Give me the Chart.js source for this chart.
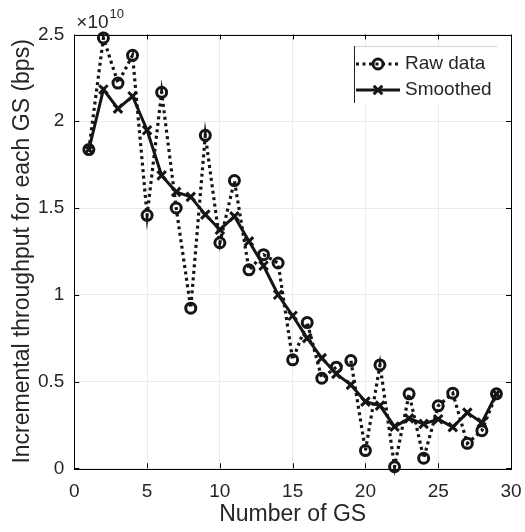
<!DOCTYPE html>
<html>
<head>
<meta charset="utf-8">
<script src="https://cdn.jsdelivr.net/npm/chart.js@4/dist/chart.umd.min.js"></script>
<style>
  html, body { margin: 0; padding: 0; background: #fff; }
  #wrap { width: 525px; height: 532px; position: relative; }
</style>
</head>
<body>
<div id="wrap"><canvas id="c" width="525" height="532"></canvas></div>
<script>
// Number of ground stations (x values)
const gsCounts = [1,2,3,4,5,6,7,8,9,10,11,12,13,14,15,16,17,18,19,20,21,22,23,24,25,26,27,28,29];
// Raw incremental throughput (units of 1e10 bps)
const rawData = [1.837,2.48,2.22,2.38,1.458,2.167,1.50,0.923,1.919,1.30,1.658,1.144,1.231,1.183,0.625,
                 0.840,0.519,0.583,0.621,0.102,0.596,0.009,0.429,0.058,0.36,0.433,0.144,0.217,0.429];
// Smoothed throughput (units of 1e10 bps)
const smoothedData = [1.837,2.183,2.073,2.144,1.948,1.688,1.593,1.564,1.462,1.375,1.452,1.308,1.167,1.0,0.879,
                      0.75,0.635,0.544,0.481,0.384,0.361,0.24,0.288,0.256,0.283,0.237,0.321,0.263,0.429];
const xTicks = [0,5,10,15,20,25,30];
const yTicks = [0,0.5,1,1.5,2,2.5];
const exponentLabel = '10';
const seriesNames = ['Raw data', 'Smoothed'];
const xTitle = 'Number of GS';
const yTitle = 'Incremental throughput for each GS (bps)';

const FONT = "'Liberation Sans', Arial, Helvetica, sans-serif";
const INK = '#151515';
const TXT = '#262626';

function toPoints(xs, ys) { return xs.map((x, i) => ({ x: x, y: ys[i] })); }

function drawCircleMarker(ctx, x, y) {
  ctx.save();
  ctx.beginPath();
  ctx.arc(x, y, 5, 0, Math.PI * 2);
  ctx.lineWidth = 3;
  ctx.strokeStyle = INK;
  ctx.stroke();
  ctx.restore();
}
function drawCrossMarker(ctx, x, y) {
  ctx.save();
  const r = 4.3;
  ctx.beginPath();
  ctx.moveTo(x - r, y - r); ctx.lineTo(x + r, y + r);
  ctx.moveTo(x - r, y + r); ctx.lineTo(x + r, y - r);
  ctx.lineWidth = 3;
  ctx.strokeStyle = INK;
  ctx.stroke();
  ctx.restore();
}

const decorPlugin = {
  id: 'decor',
  beforeDatasetsDraw(chart) {
    const { ctx, chartArea: a } = chart;
    ctx.save();
    ctx.strokeStyle = '#000';
    ctx.lineWidth = 1;
    ctx.strokeRect(Math.round(a.left) + 0.5, Math.round(a.top) + 0.5,
                   Math.round(a.right - a.left), Math.round(a.bottom - a.top));
    const xs = chart.scales.x, ys = chart.scales.y;
    const L = 5;
    ctx.beginPath();
    xTicks.forEach(v => {
      const px = Math.round(xs.getPixelForValue(v)) + 0.5;
      ctx.moveTo(px, a.bottom); ctx.lineTo(px, a.bottom - L);
      ctx.moveTo(px, a.top); ctx.lineTo(px, a.top + L);
    });
    yTicks.forEach(v => {
      const py = Math.round(ys.getPixelForValue(v)) + 0.5;
      ctx.moveTo(a.left, py); ctx.lineTo(a.left + L, py);
      ctx.moveTo(a.right, py); ctx.lineTo(a.right - L, py);
    });
    ctx.stroke();
    ctx.restore();
  },
  afterDraw(chart) {
    const { ctx, chartArea: a } = chart;
    ctx.save();
    ctx.fillStyle = TXT;
    ctx.textBaseline = 'alphabetic';
    ctx.textAlign = 'left';
    ctx.font = '19px ' + FONT;
    ctx.fillText('\u00d710', a.left + 2, 28);
    const w = ctx.measureText('\u00d710').width;
    ctx.font = '13px ' + FONT;
    ctx.fillText(exponentLabel, a.left + 2 + w + 1, 18);

    const bx = 354, by = 46, bw = 143, bh = 57;
    ctx.fillStyle = '#fff';
    ctx.fillRect(bx, by, bw, bh);
    ctx.strokeStyle = '#d4d4d4';
    ctx.lineWidth = 1;
    ctx.beginPath();
    ctx.moveTo(bx, by + 0.5); ctx.lineTo(bx + bw, by + 0.5);
    ctx.stroke();
    ctx.strokeStyle = '#222';
    ctx.beginPath();
    ctx.moveTo(bx + 0.5, by); ctx.lineTo(bx + 0.5, by + bh);
    ctx.stroke();

    const lx0 = 356, lx1 = 400, mx = 378;
    const r1 = 64, r2 = 90;
    ctx.strokeStyle = INK;
    ctx.lineWidth = 3.2;
    ctx.setLineDash([3, 3.5]);
    ctx.beginPath(); ctx.moveTo(lx0, r1); ctx.lineTo(lx1, r1); ctx.stroke();
    ctx.setLineDash([]);
    ctx.lineWidth = 3;
    ctx.beginPath(); ctx.moveTo(lx0, r2); ctx.lineTo(lx1, r2); ctx.stroke();
    drawCircleMarker(ctx, mx, r1);
    drawCrossMarker(ctx, mx, r2);

    ctx.fillStyle = TXT;
    ctx.font = '19px ' + FONT;
    ctx.textBaseline = 'middle';
    ctx.fillText(seriesNames[0], 405, r1);
    ctx.fillText(seriesNames[1], 405, r2);
    ctx.restore();
  }
};

new Chart(document.getElementById('c'), {
  type: 'line',
  data: {
    datasets: [
      {
        label: seriesNames[0],
        data: toPoints(gsCounts, rawData),
        borderColor: INK,
        borderWidth: 3.2,
        borderDash: [3, 3.5],
        pointStyle: 'circle',
        pointRadius: 5,
        pointBorderWidth: 3,
        pointBorderColor: INK,
        pointBackgroundColor: 'rgba(0,0,0,0)',
        tension: 0,
        clip: false,
        order: 1
      },
      {
        label: seriesNames[1],
        data: toPoints(gsCounts, smoothedData),
        borderColor: INK,
        borderWidth: 3,
        pointStyle: 'crossRot',
        pointRadius: 6,
        pointBorderWidth: 3,
        pointBorderColor: INK,
        pointBackgroundColor: INK,
        tension: 0,
        clip: false,
        order: 0
      }
    ]
  },
  options: {
    responsive: false,
    animation: false,
    events: [],
    layout: { padding: { top: 34.5, right: 14, left: 0, bottom: 0 } },
    plugins: { legend: { display: false }, tooltip: { enabled: false }, title: { display: false } },
    scales: {
      x: {
        type: 'linear',
        min: 0, max: 30,
        afterBuildTicks(s) { s.ticks = xTicks.map(v => ({ value: v })); },
        afterFit(s) { s.height = 63.7; s.paddingLeft = 0; s.paddingRight = 0; },
        ticks: { font: { size: 19, family: FONT }, color: TXT, padding: 12, maxRotation: 0 },
        grid: { color: '#ebebeb', lineWidth: 1, drawTicks: false },
        border: { display: false },
        title: { display: true, text: xTitle, font: { size: 23, family: FONT }, color: TXT,
                 padding: { top: 0, bottom: 4 } }
      },
      y: {
        type: 'linear',
        min: 0, max: 2.5,
        afterBuildTicks(s) { s.ticks = yTicks.map(v => ({ value: v })); },
        afterFit(s) { s.width = 74.3; s.paddingTop = 0; s.paddingBottom = 0; },
        ticks: { font: { size: 19, family: FONT }, color: TXT, padding: 10,
                 callback: v => String(v) },
        grid: { color: '#ebebeb', lineWidth: 1, drawTicks: false },
        border: { display: false },
        title: { display: true, text: yTitle, font: { size: 23, family: FONT }, color: TXT,
                 padding: { top: 9, bottom: 0 } }
      }
    }
  },
  plugins: [decorPlugin]
});
</script>
</body>
</html>
